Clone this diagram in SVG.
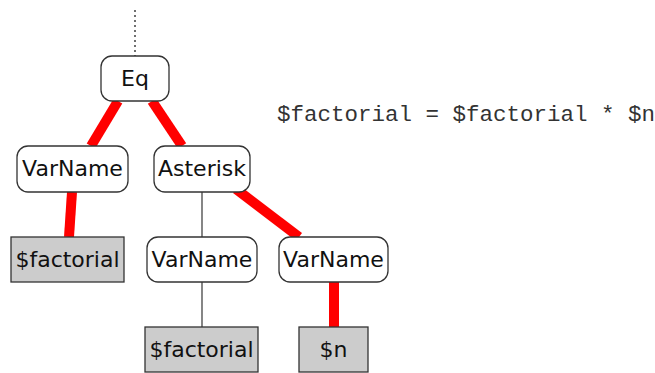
<svg xmlns="http://www.w3.org/2000/svg" width="655" height="373" viewBox="0 0 655 373">
  <style>
    .node rect { stroke: #333; stroke-width: 1.3; }
    .op rect { fill: #ffffff; }
    .leaf rect { fill: #cccccc; }
    .node text { font-family: "DejaVu Sans", sans-serif; font-size: 22px; fill: #111; text-anchor: middle; }
    .thick { stroke: #ff0000; stroke-width: 10; fill: none; }
    .thin { stroke: #444; stroke-width: 1.3; fill: none; }
    .dots { stroke: #222; stroke-width: 1.3; stroke-dasharray: 2 3; }
    .code { font-family: "Liberation Mono", monospace; font-size: 22.5px; fill: #333; }
  </style>

  <!-- connectors -->
  <g id="connectors">
    <line class="dots" x1="135" y1="10" x2="135" y2="56"/>
    <line class="thick" x1="118" y1="101" x2="91" y2="146"/>
    <line class="thick" x1="152" y1="101" x2="182" y2="146"/>
    <line class="thick" x1="72" y1="192" x2="69" y2="237"/>
    <line class="thin" x1="202" y1="192" x2="202" y2="237"/>
    <line class="thick" x1="236" y1="189" x2="299" y2="237"/>
    <line class="thin" x1="202" y1="282" x2="202" y2="327"/>
    <line class="thick" x1="334" y1="282" x2="334" y2="327"/>
  </g>

  <!-- nodes -->
  <g id="eq" class="node op">
    <rect x="101" y="56" width="68" height="45" rx="11"/>
    <text x="135" y="86">Eq</text>
  </g>
  <g id="varname-left" class="node op">
    <rect x="17" y="146" width="111" height="46" rx="11"/>
    <text x="72.5" y="176">VarName</text>
  </g>
  <g id="asterisk" class="node op">
    <rect x="154" y="146" width="96" height="46" rx="11"/>
    <text x="202" y="176">Asterisk</text>
  </g>
  <g id="factorial-left" class="node leaf">
    <rect x="11" y="237" width="113" height="45"/>
    <text x="67.5" y="266.5">$factorial</text>
  </g>
  <g id="varname-mid" class="node op">
    <rect x="147" y="237" width="110" height="45" rx="11"/>
    <text x="202" y="266.5">VarName</text>
  </g>
  <g id="varname-right" class="node op">
    <rect x="279" y="237" width="109" height="45" rx="11"/>
    <text x="333.5" y="266.5">VarName</text>
  </g>
  <g id="factorial-bottom" class="node leaf">
    <rect x="145" y="327" width="113" height="45"/>
    <text x="201.5" y="356.5">$factorial</text>
  </g>
  <g id="n" class="node leaf">
    <rect x="299" y="327" width="69" height="45"/>
    <text x="333.5" y="356.5">$n</text>
  </g>

  <!-- source statement -->
  <text class="code" x="277" y="121">$factorial = $factorial * $n</text>
</svg>
